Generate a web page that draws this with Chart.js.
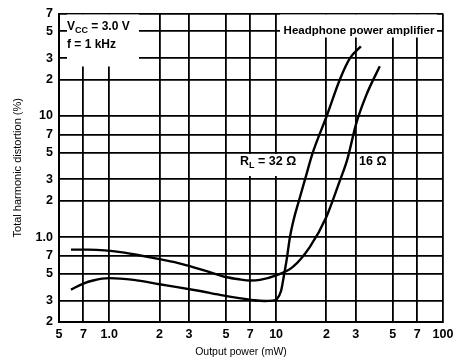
<!DOCTYPE html>
<html>
<head>
<meta charset="utf-8">
<script src="https://cdn.jsdelivr.net/npm/chart.js@4/dist/chart.umd.min.js"></script>
<style>
  html, body { margin: 0; padding: 0; background: #fff; }
  #wrap { width: 460px; height: 362px; }
</style>
</head>
<body>
<div id="wrap"><canvas id="c" width="460" height="362"></canvas></div>
<script>
// Axis ticks (log-log grid) and their printed labels
const powerTicks = [0.5, 0.7, 1, 2, 3, 5, 7, 10, 20, 30, 50, 70, 100];
const powerTickLabels = ['5', '7', '1.0', '2', '3', '5', '7', '10', '2', '3', '5', '7', '100'];
const thdTicks = [0.2, 0.3, 0.5, 0.7, 1, 2, 3, 5, 7, 10, 20, 30, 50, 70];
const thdTickLabels = ['2', '3', '5', '7', '1.0', '2', '3', '5', '7', '10', '2', '3', '5', '7'];

// THD vs output power, RL = 32 ohm
const power32 = [0.59, 0.7, 0.8, 1.0, 1.4, 2.0, 2.5, 3.5, 4.6, 6.0, 7.3, 8.5, 9.5, 10.1, 10.7, 11.1, 11.6, 12.1, 12.8, 13.7, 14.9, 16.6, 20.1, 24.1, 27.7, 32.2];
const thd32 = [0.37, 0.415, 0.44, 0.46, 0.445, 0.41, 0.39, 0.36, 0.335, 0.315, 0.303, 0.298, 0.30, 0.31, 0.36, 0.47, 0.67, 1.0, 1.43, 2.0, 3.0, 5.0, 10.0, 20.0, 30.0, 37.5];

// THD vs output power, RL = 16 ohm
const power16 = [0.59, 0.75, 0.94, 1.2, 1.43, 2.0, 2.5, 3.0, 4.0, 5.0, 6.0, 7.0, 8.0, 10.0, 12.6, 15.9, 20.0, 24.1, 26.6, 30.3, 34.8, 41.8];
const thd16 = [0.79, 0.79, 0.78, 0.75, 0.72, 0.66, 0.62, 0.58, 0.515, 0.47, 0.45, 0.44, 0.445, 0.485, 0.57, 0.83, 1.47, 2.93, 4.3, 8.8, 15.0, 25.7];

const FONT = "'Liberation Sans', Arial, Helvetica, sans-serif";

function zip(xs, ys) {
  return xs.map((x, i) => ({ x: x, y: ys[i] }));
}

// Text labels with white backing boxes, plus the axis titles
const labelsPlugin = {
  id: 'labels',
  beforeDatasetsDraw(chart) {
    const ctx = chart.ctx;
    const ca = chart.chartArea;
    ctx.save();
    ctx.fillStyle = '#fff';
    // backing boxes that interrupt the grid
    ctx.fillRect(ca.left + 8, ca.top + 1, 72, 52);
    ctx.fillRect(ca.left + 221, ca.top + 1, 157, 23);
    ctx.fillRect(236, 154, 66, 22);
    ctx.fillRect(357, 154, 31, 22);

    ctx.fillStyle = '#000';
    ctx.textBaseline = 'alphabetic';
    ctx.textAlign = 'left';

    // V_CC = 3.0 V
    let x = ca.left + 8;
    let y = ca.top + 16;
    ctx.font = 'bold 12px ' + FONT;
    ctx.fillText('V', x, y);
    x += ctx.measureText('V').width;
    ctx.font = 'bold 9px ' + FONT;
    ctx.fillText('CC', x, y + 3);
    x += ctx.measureText('CC').width;
    ctx.font = 'bold 12px ' + FONT;
    ctx.fillText(' = 3.0 V', x, y);

    // f = 1 kHz
    ctx.fillText('f = 1 kHz', ca.left + 8, ca.top + 34);

    // Title tag
    ctx.font = 'bold 11.5px ' + FONT;
    ctx.textAlign = 'center';
    ctx.fillText('Headphone power amplifier', ca.left + 300, ca.top + 20);

    // Load labels
    ctx.textAlign = 'left';
    x = 240; y = 165;
    ctx.font = 'bold 12.5px ' + FONT;
    ctx.fillText('R', x, y);
    x += ctx.measureText('R').width;
    ctx.font = 'bold 9px ' + FONT;
    ctx.fillText('L', x, y + 3);
    x += ctx.measureText('L').width;
    ctx.font = 'bold 12.5px ' + FONT;
    ctx.fillText(' = 32 \u03A9', x, y);
    ctx.fillText('16 \u03A9', 359, y);
    ctx.restore();
  },
  afterDraw(chart) {
    const ctx = chart.ctx;
    const ca = chart.chartArea;
    ctx.save();
    ctx.fillStyle = '#000';
    ctx.textAlign = 'center';
    ctx.textBaseline = 'middle';
    ctx.font = '10.5px ' + FONT;
    ctx.fillText('Output power (mW)', 241, 352);
    ctx.translate(18, (ca.top + ca.bottom) / 2);
    ctx.rotate(-Math.PI / 2);
    ctx.font = '11px ' + FONT;
    ctx.fillText('Total harmonic distortion (%)', 0, 0);
    ctx.restore();
  }
};

const lineStyle = {
  borderColor: '#000',
  borderWidth: 2.4,
  pointRadius: 0,
  fill: false,
  cubicInterpolationMode: 'monotone'
};

new Chart(document.getElementById('c'), {
  type: 'line',
  data: {
    datasets: [
      Object.assign({ label: 'RL = 32 \u03A9', data: zip(power32, thd32) }, lineStyle),
      Object.assign({ label: 'RL = 16 \u03A9', data: zip(power16, thd16) }, lineStyle)
    ]
  },
  options: {
    responsive: false,
    animation: false,
    devicePixelRatio: 1,
    layout: { padding: { top: 11, right: 17, left: 0, bottom: 0 } },
    plugins: { legend: { display: false }, tooltip: { enabled: false } },
    scales: {
      x: {
        type: 'logarithmic',
        min: 0.5,
        max: 100,
        afterBuildTicks: s => { s.ticks = powerTicks.map(v => ({ value: v })); },
        afterFit: s => { s.height = 40; },
        grid: { color: '#000', lineWidth: 1.8, drawTicks: false },
        border: { display: true, color: '#000', width: 2 },
        ticks: {
          autoSkip: false,
          maxRotation: 0,
          padding: 5,
          color: '#000',
          font: { family: FONT, size: 12.5, weight: 'bold' },
          callback: (v, i) => powerTickLabels[i]
        }
      },
      y: {
        type: 'logarithmic',
        min: 0.2,
        max: 70,
        afterBuildTicks: s => { s.ticks = thdTicks.map(v => ({ value: v })); },
        afterFit: s => { s.width = 59; },
        grid: { color: '#000', lineWidth: 1.8, drawTicks: false },
        border: { display: true, color: '#000', width: 2 },
        ticks: {
          autoSkip: false,
          padding: 6,
          color: '#000',
          font: { family: FONT, size: 12.5, weight: 'bold' },
          callback: (v, i) => thdTickLabels[i]
        }
      }
    }
  },
  plugins: [labelsPlugin]
});
</script>
</body>
</html>
